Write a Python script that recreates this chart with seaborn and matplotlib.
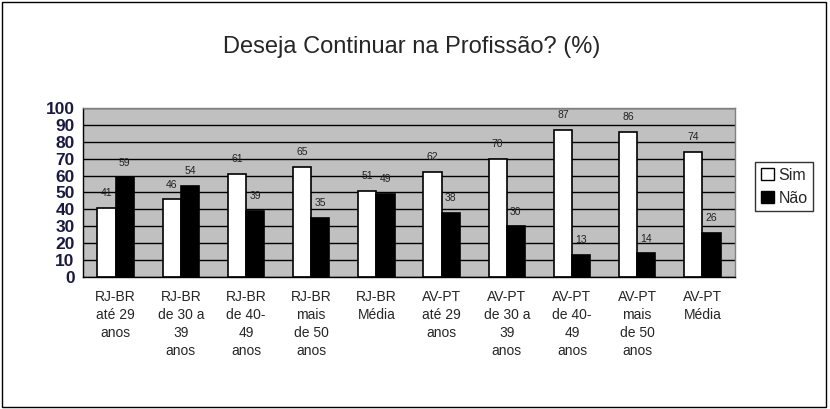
import matplotlib
matplotlib.use("Agg")
import matplotlib.pyplot as plt
import seaborn as sns
import pandas as pd
import numpy as np
from matplotlib.patches import Rectangle

categories = ["RJ-BR\naté 29\nanos", "RJ-BR\nde 30 a\n39\nanos", "RJ-BR\nde 40-\n49\nanos",
              "RJ-BR\nmais\nde 50\nanos", "RJ-BR\nMédia", "AV-PT\naté 29\nanos",
              "AV-PT\nde 30 a\n39\nanos", "AV-PT\nde 40-\n49\nanos", "AV-PT\nmais\nde 50\nanos",
              "AV-PT\nMédia"]
sim = [41, 46, 61, 65, 51, 62, 70, 87, 86, 74]
nao = [59, 54, 39, 35, 49, 38, 30, 13, 14, 26]
series = ["Sim", "Não"]
yticks = list(range(0, 101, 10))

sns.set_style("white")
plt.rcParams['font.family'] = ['Liberation Sans', 'DejaVu Sans']

df = pd.DataFrame({
    "cat": categories * 2,
    "val": sim + nao,
    "serie": [series[0]] * len(sim) + [series[1]] * len(nao),
})

fig = plt.figure(figsize=(8.3, 4.09), dpi=100)
ax = fig.add_axes([0.1, 0.3227, 0.7855, 0.4133])

sns.barplot(data=df, x="cat", y="val", hue="serie", order=categories, hue_order=series,
            palette={"Sim": "white", "Não": "black"}, edgecolor="black", linewidth=1.2,
            width=0.56, gap=0, ax=ax, legend=False, errorbar=None)

ax.set_facecolor("#C0C0C0")
ax.set_ylim(0, 100)
ax.set_xlim(-0.5, len(categories) - 0.5)
ax.set_yticks(yticks)
ax.yaxis.grid(True, color="black", linewidth=1.0)
ax.set_axisbelow(True)
for s in ax.spines.values():
    s.set_color("#808080")
    s.set_linewidth(1.0)
ax.spines["left"].set_color("black")
ax.spines["bottom"].set_color("black")
ax.set_xlabel("")
ax.set_ylabel("")

ax.tick_params(axis="y", which="major", direction="out", length=4, width=1, color="black",
               labelsize=12.5, pad=2)
for t in ax.get_yticklabels():
    t.set_fontweight("bold")
    t.set_color("#1a1a40")
ax.set_xticks(np.arange(len(categories)))
ax.set_xticklabels(categories, fontsize=10, linespacing=1.38, va="top")
ax.tick_params(axis="x", which="major", length=0, pad=9)
ax.set_xticks(np.arange(len(categories) + 1) - 0.5, minor=True)
ax.tick_params(axis="x", which="minor", direction="out", length=5, width=1, color="black")

for cont in ax.containers:
    for bar, v in zip(cont, cont.datavalues):
        ax.annotate(f"{v:.0f}", (bar.get_x() + bar.get_width() / 2, bar.get_height()),
                    xytext=(0, 7), textcoords="offset points", ha="center", va="bottom",
                    fontsize=7.5, color="#222222")

fig.text(0.4965, 0.885, "Deseja Continuar na Profissão? (%)", ha="center", va="center", fontsize=17)

handles = [Rectangle((0, 0), 1, 1, facecolor="white", edgecolor="black", linewidth=1),
           Rectangle((0, 0), 1, 1, facecolor="black", edgecolor="black", linewidth=1)]
leg = fig.legend(handles, series, loc="center", bbox_to_anchor=(0.945, 0.543), frameon=True,
                 fontsize=11.5, handlelength=0.8, handleheight=0.8, handletextpad=0.3,
                 borderpad=0.35, labelspacing=0.5, fancybox=False, borderaxespad=0)
leg.get_frame().set_edgecolor("black")
leg.get_frame().set_linewidth(1.0)

fig.patches.append(Rectangle((0.003, 0.005), 0.992, 0.99, transform=fig.transFigure,
                             fill=False, edgecolor="black", linewidth=1.0))

fig.savefig("out.png", dpi=100)
